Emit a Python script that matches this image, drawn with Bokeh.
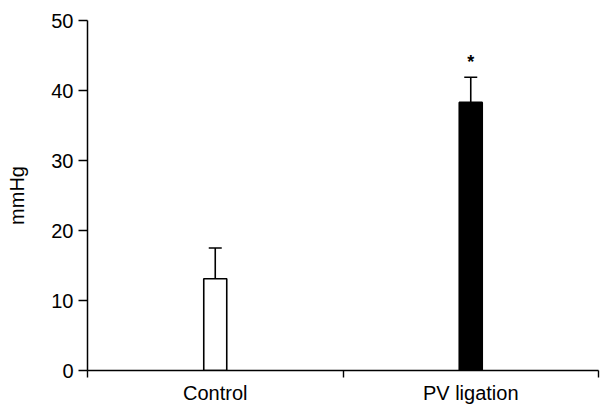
from bokeh.plotting import figure
from bokeh.models import FixedTicker, ColumnDataSource, Whisker, TeeHead, Range1d
from bokeh.core.properties import value
from bokeh.embed import file_html
from bokeh.resources import INLINE

categories = ["Control", "PV ligation"]
means = [13.1, 38.3]
errors = [4.4, 3.6]
fills = ["white", "black"]
sig_marks = ["", "*"]
y_ticks = [0, 10, 20, 30, 40, 50]

xs = [i + 0.5 for i in range(len(categories))]
src = ColumnDataSource(dict(
    x=xs, top=means, upper=[m + e for m, e in zip(means, errors)],
    fill=fills, mark=sig_marks,
))

p = figure(width=600, height=408, output_backend="svg", toolbar_location=None,
           x_range=Range1d(0, len(categories)), y_range=Range1d(0, 50),
           min_border_left=87, min_border_right=2, min_border_top=20, min_border_bottom=38)
p.outline_line_color = None
p.xgrid.visible = False
p.ygrid.visible = False
p.background_fill_color = "white"

p.vbar(x="x", top="top", bottom=0, width=0.09, source=src,
       fill_color="fill", line_color="black", line_width=1.6)
w = Whisker(base="x", upper="upper", lower="top", source=src,
            line_color="black", line_width=1.6,
            upper_head=TeeHead(size=13, line_color="black", line_width=1.6),
            lower_head=None)
p.add_layout(w)
p.text(x="x", y="upper", text="mark", source=src, text_align="center",
       text_baseline="bottom", y_offset=-5, text_font=value("Liberation Sans"),
       text_font_size="18px", text_font_style="bold", text_color="black")

xa = p.xaxis[0]
xa.ticker = FixedTicker(ticks=xs, minor_ticks=list(range(len(categories) + 1)))
xa.major_label_overrides = {x: c for x, c in zip(xs, categories)}
xa.major_tick_out = 0
xa.major_tick_in = 0
xa.minor_tick_out = 7
xa.minor_tick_in = 0
xa.minor_tick_line_color = "black"
xa.minor_tick_line_width = 1.4
xa.axis_line_color = "black"
xa.axis_line_width = 1.5
xa.major_label_text_font = "Liberation Sans"
xa.major_label_text_font_size = "20px"
xa.major_label_text_color = "black"
xa.major_label_standoff = 4

ya = p.yaxis[0]
ya.ticker = FixedTicker(ticks=y_ticks, minor_ticks=[])
ya.major_tick_out = 9
ya.major_tick_in = 0
ya.axis_line_color = "black"
ya.axis_line_width = 1.5
ya.major_tick_line_color = "black"
ya.major_tick_line_width = 1.4
ya.major_label_text_font = "Liberation Sans"
ya.major_label_text_font_size = "20px"
ya.major_label_text_color = "black"
ya.major_label_standoff = 5
ya.axis_label = "mmHg"
ya.axis_label_text_font = "Liberation Sans"
ya.axis_label_text_font_size = "20px"
ya.axis_label_text_font_style = "normal"
ya.axis_label_text_color = "black"
ya.axis_label_standoff = 20

open("out.html", "w").write(file_html(p, INLINE))
